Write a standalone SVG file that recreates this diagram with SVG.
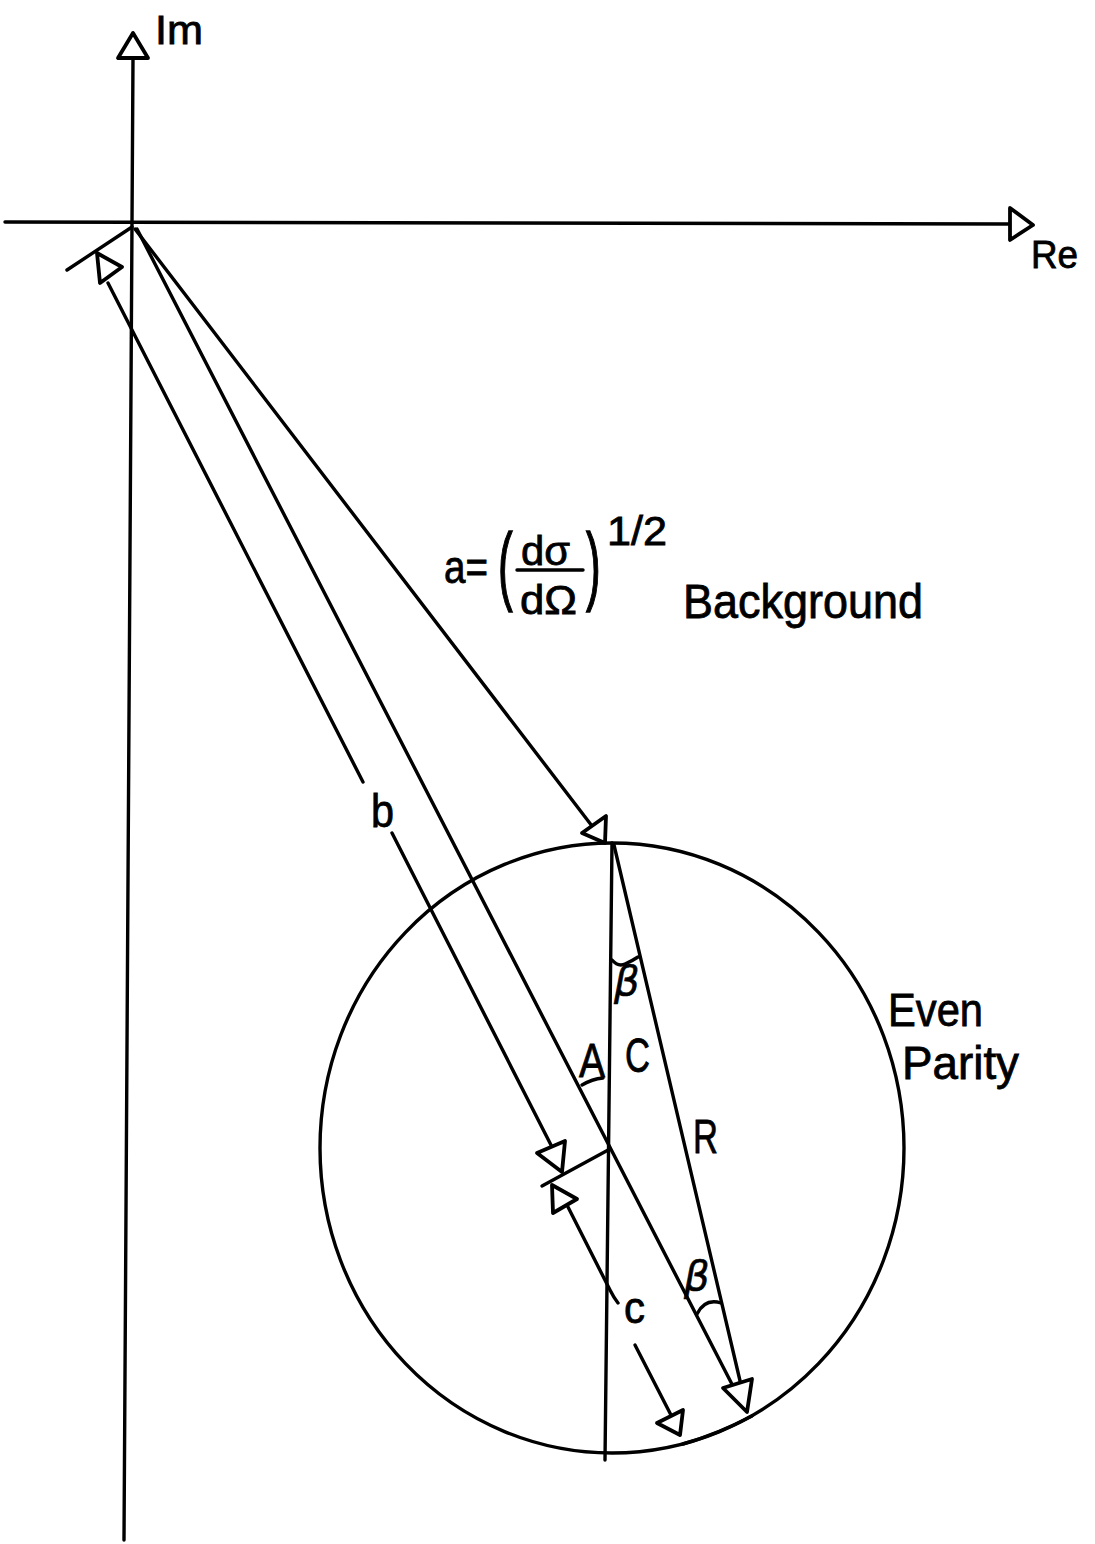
<svg xmlns="http://www.w3.org/2000/svg" width="1095" height="1544" viewBox="0 0 1095 1544">
<style>
.ln{fill:none;stroke:#000;stroke-width:3.4;stroke-linecap:round;stroke-linejoin:round}
.ah{fill:#fff;stroke:#000;stroke-width:3.8;stroke-linejoin:round}
.t{font-family:"Liberation Sans","DejaVu Sans",sans-serif;fill:#000;stroke:#000;stroke-width:0.8}
.g{font-family:"DejaVu Sans","Liberation Sans",sans-serif;font-style:italic;fill:#000;stroke:#000;stroke-width:0.6}
</style>
<rect width="1095" height="1544" fill="#fff"/>
<g id="axes">
<path class="ln" d="M133,58 L124,1540"/>
<path class="ln" d="M5,222 L1010,224"/>
<polygon class="ah" points="133,33 118,58 148,58"/>
<polygon class="ah" points="1010,208 1033,225 1010,240"/>
<text class="t" x="155" y="44" font-size="40" textLength="48" lengthAdjust="spacingAndGlyphs">Im</text>
<text class="t" x="1031" y="268" font-size="38" textLength="47" lengthAdjust="spacingAndGlyphs">Re</text>
</g>
<g id="circle">
<ellipse class="ln" cx="612" cy="1148" rx="292" ry="305"/>
<path class="ln" stroke-width="5.5" d="M683,1444 Q718,1434 752,1416"/>
<text class="t" x="888" y="1026" font-size="46" textLength="95" lengthAdjust="spacingAndGlyphs">Even</text>
<text class="t" x="902" y="1079" font-size="46" textLength="117" lengthAdjust="spacingAndGlyphs">Parity</text>
</g>
<g id="connectors">
<path class="ln" d="M135,229 L592,826"/>
<path class="ln" d="M137,229 L736,1392"/>
<path class="ln" d="M614,845 L741,1385"/>
<path class="ln" d="M612,843 L605,1460"/>
<path class="ln" d="M108,283 L363,782"/>
<path class="ln" d="M392,833 L552,1147"/>
<path class="ln" d="M132,227 L67,270"/>
<path class="ln" d="M610,1149 L542,1186"/>
<path class="ln" d="M568,1207 L610,1290 Q614,1298 618,1303"/>
<path class="ln" d="M635,1345 L672,1417"/>
<polygon class="ah" points="97,253 122,267 100,283"/>
<polygon class="ah" points="582,833 606,816 605,843"/>
<polygon class="ah" points="537,1153 565,1141 562,1172"/>
<polygon class="ah" points="552,1185 577,1199 553,1213"/>
<polygon class="ah" points="657,1423 683,1410 680,1435"/>
<polygon class="ah" points="723,1388 752,1379 747,1412"/>
<path class="ln" d="M612,960 Q618,967 625,964 Q632,961 638,957"/>
<path class="ln" d="M697,1314 Q705,1298 721,1303"/>
<path class="ln" stroke-width="2.8" d="M582,1085 Q592,1079 603,1078"/>
</g>
<g id="labels">
<text class="t" x="444" y="583" font-size="46" textLength="44" lengthAdjust="spacingAndGlyphs">a=</text>
<text class="t" transform="translate(498,594) scale(1,2)" x="0" y="0" font-size="44" stroke-width="1.5">(</text>
<text class="t" x="521" y="565" font-size="40" textLength="49" lengthAdjust="spacingAndGlyphs">dσ</text>
<path class="ln" stroke-width="2.8" d="M517,570 L583,570"/>
<text class="t" x="520" y="614" font-size="40" textLength="57" lengthAdjust="spacingAndGlyphs">dΩ</text>
<text class="t" transform="translate(586,594) scale(1,2)" x="0" y="0" font-size="44" stroke-width="1.5">)</text>
<text class="t" x="607" y="545" font-size="40" textLength="60" lengthAdjust="spacingAndGlyphs">1/2</text>
<text class="t" x="683" y="618" font-size="48" textLength="240" lengthAdjust="spacingAndGlyphs">Background</text>
<text class="t" x="371" y="827" font-size="46" textLength="23" lengthAdjust="spacingAndGlyphs">b</text>
<text class="t" x="579" y="1077" font-size="48" textLength="26" lengthAdjust="spacingAndGlyphs">A</text>
<text class="t" x="625" y="1072" font-size="48" textLength="25" lengthAdjust="spacingAndGlyphs">C</text>
<text class="t" x="693" y="1153" font-size="48" textLength="25" lengthAdjust="spacingAndGlyphs">R</text>
<text class="t" x="624" y="1323" font-size="44" textLength="21" lengthAdjust="spacingAndGlyphs">c</text>
<text class="g" x="614" y="995" font-size="40">β</text>
<text class="g" x="684" y="1290" font-size="40">β</text>
</g>
</svg>
